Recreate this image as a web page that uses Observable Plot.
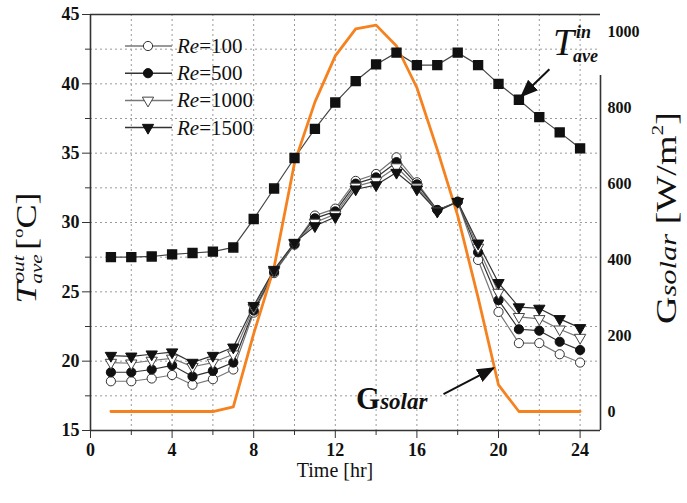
<!DOCTYPE html>
<html><head><meta charset="utf-8">
<script src="https://cdn.jsdelivr.net/npm/d3@7"></script>
<script src="https://cdn.jsdelivr.net/npm/@observablehq/plot@0.6"></script>
<style>
html,body{margin:0;padding:0;background:#fff;}
#chart{position:relative;width:687px;height:503px;overflow:hidden;}
</style></head><body><div id="chart"></div>
<script>
// ---- data ----
const hours = [1,2,3,4,5,6,7,8,9,10,11,12,13,14,15,16,17,18,19,20,21,22,23,24];
const re100  = [18.55,18.55,18.75,19.0,18.3,18.7,19.4,23.5,26.35,28.4,30.5,31.0,33.0,33.5,34.7,32.9,30.9,31.5,27.3,23.55,21.3,21.3,20.5,19.9];
const re500  = [19.2,19.2,19.4,19.7,18.9,19.3,19.9,23.65,26.45,28.45,30.3,30.8,32.8,33.25,34.35,32.75,30.9,31.5,27.85,24.4,22.3,22.2,21.4,20.8];
const re1000 = [19.9,19.85,20.05,20.2,19.6,19.9,20.5,23.85,26.5,28.5,30.0,30.6,32.6,33.0,34.0,32.55,30.85,31.5,28.2,24.95,23.2,23.05,22.3,21.7];
const re1500 = [20.4,20.35,20.5,20.65,19.9,20.4,21.0,24.0,26.6,28.55,29.75,30.4,32.4,32.7,33.6,32.4,30.8,31.5,28.5,25.65,23.9,23.8,23.05,22.4];
const tIn    = [27.5,27.5,27.55,27.7,27.8,27.9,28.2,30.25,32.45,34.65,36.75,38.65,40.2,41.4,42.25,41.35,41.35,42.25,41.35,40.0,38.85,37.6,36.5,35.35];
const gSolar = [0,0,0,0,0,0,12,205,380,655,815,937,1008,1018,963,853,690,516,300,70,0,0,0,0];
const seriesNames = ["Re=100","Re=500","Re=1000","Re=1500"];
const xTicksMajor = [0,4,8,12,16,20,24];
const yTicksMajor = [15,20,25,30,35,40,45];
const gTicks = [0,200,400,600,800,1000];

// ---- scales ----
const T_MIN = 15, T_MAX = 45, G_MIN = -50, G_MAX = 1046;
const gToT = g => T_MIN + (g - G_MIN) * (T_MAX - T_MIN) / (G_MAX - G_MIN);
const tToG = t => G_MIN + (t - T_MIN) * (G_MAX - G_MIN) / (T_MAX - T_MIN);

const sqrt3 = Math.sqrt(3);
const triangleDown = {draw(ctx, size) {
  const y = -Math.sqrt(size / (sqrt3 * 3));
  ctx.moveTo(0, -y * 2);
  ctx.lineTo(-sqrt3 * y, y);
  ctx.lineTo(sqrt3 * y, y);
  ctx.closePath();
}};

const styles = {
  "Re=100":  {symbol: "circle", fill: "white", stroke: "#333", line: "#777", r: 4.6},
  "Re=500":  {symbol: "circle", fill: "#111",  stroke: "#111", line: "#333", r: 4.6},
  "Re=1000": {symbol: triangleDown, fill: "white", stroke: "#444", line: "#777", r: 4.2},
  "Re=1500": {symbol: triangleDown, fill: "#111",  stroke: "#111", line: "#333", r: 4.2}
};
const values = {"Re=100": re100, "Re=500": re500, "Re=1000": re1000, "Re=1500": re1500};
const rows = seriesNames.flatMap(s => values[s].map((v, i) => ({hour: hours[i], T: v, series: s})));
const tInRows = hours.map((h, i) => ({hour: h, T: tIn[i]}));
const gRows = hours.map((h, i) => ({hour: h, G: gSolar[i]}));

const serif = "'Liberation Serif','Times New Roman',serif";
const grid = {stroke: "#9a9a9a", strokeOpacity: 1, strokeDasharray: "2,3", strokeWidth: 1};
const frame = {stroke: "#333", strokeWidth: 1.6};

const chart = Plot.plot({
  width: 687, height: 503,
  marginLeft: 90, marginRight: 87, marginTop: 14, marginBottom: 73,
  style: {fontFamily: serif, fontSize: "18px", fontWeight: "bold", color: "#111", background: "white"},
  x: {domain: [0, 25]},
  y: {domain: [T_MIN, T_MAX]},
  marks: [
    Plot.gridX({ticks: d3.range(2, 25, 2), ...grid}),
    Plot.gridY({ticks: d3.range(17.5, 45, 2.5), ...grid}),
    Plot.axisX({ticks: xTicksMajor, tickSize: 8, tickPadding: 5, label: null, fontSize: 18, fontWeight: "bold", stroke: "#333"}),
    Plot.axisX({ticks: d3.range(2, 25, 4), tickSize: 5, text: null, label: null, stroke: "#333"}),
    Plot.axisY({ticks: yTicksMajor, tickSize: 8, tickPadding: 3, label: null, fontSize: 18, fontWeight: "bold", stroke: "#333"}),
    Plot.axisY({ticks: d3.range(17.5, 45, 5), tickSize: 5, text: null, label: null, stroke: "#333"}),
    Plot.axisY({anchor: "right", ticks: gTicks.map(gToT), tickFormat: t => String(Math.round(tToG(t))),
      tickSize: 0, tickPadding: 7, textAnchor: "start", label: null, fontSize: 16, fontWeight: "bold"}),
    Plot.ruleX([0], frame),
    Plot.ruleY([T_MIN], frame),
    Plot.ruleY([T_MAX], frame),
    Plot.ruleX([25], {y1: T_MIN, y2: 40.6, ...frame}),
    ...seriesNames.map(s => Plot.line(rows.filter(r => r.series === s), {x: "hour", y: "T", stroke: styles[s].line, strokeWidth: 1.2})),
    Plot.line(tInRows, {x: "hour", y: "T", stroke: "#444", strokeWidth: 1.2}),
    Plot.line(gRows, {x: "hour", y: d => gToT(d.G), stroke: "#F5821F", strokeWidth: 2.8}),
    ...seriesNames.map(s => Plot.dot(rows.filter(r => r.series === s), {x: "hour", y: "T",
      symbol: styles[s].symbol, fill: styles[s].fill, stroke: styles[s].stroke, strokeWidth: 1, r: styles[s].r})),
    Plot.dot(tInRows, {x: "hour", y: "T", symbol: "square", fill: "#111", stroke: "#111", r: 5})
  ]
});
document.getElementById("chart").appendChild(chart);

// ---- rich text: legend, annotations, axis titles ----
const svg = d3.select(chart);
const sx = chart.scale("x").apply, sy = chart.scale("y").apply;
const defs = svg.append("defs");
defs.append("marker").attr("id", "ah").attr("viewBox", "0 0 10 10").attr("refX", 9).attr("refY", 5)
  .attr("markerWidth", 9).attr("markerHeight", 9).attr("orient", "auto-start-reverse")
  .append("path").attr("d", "M0,1 L10,5 L0,9 Z").attr("fill", "#111");

// legend
const lg = svg.append("g").attr("font-family", serif).attr("font-weight", "normal").attr("text-anchor", "start");
seriesNames.forEach((s, i) => {
  const y = 46 + i * 27.2;
  lg.append("line").attr("x1", 125).attr("x2", 172).attr("y1", y).attr("y2", y)
    .attr("stroke", styles[s].line).attr("stroke-width", 1.5);
  lg.append("path").attr("transform", `translate(148,${y})`)
    .attr("d", d3.symbol(styles[s].symbol === "circle" ? d3.symbolCircle : styles[s].symbol, Math.PI * styles[s].r ** 2)())
    .attr("fill", styles[s].fill).attr("stroke", styles[s].stroke);
  const t = lg.append("text").attr("x", 177).attr("y", y + 7).attr("font-size", 21).attr("fill", "#111");
  t.append("tspan").attr("font-style", "italic").text(s.split("=")[0]);
  t.append("tspan").text("=" + s.split("=")[1]);
});

// T_ave^in annotation
const tipX = sx(21) + 3, tipY = sy(tIn[20]) - 3;
svg.append("line").attr("x1", tipX + 28).attr("y1", tipY - 27).attr("x2", tipX).attr("y2", tipY)
  .attr("stroke", "#111").attr("stroke-width", 2).attr("marker-end", "url(#ah)");
const ta = svg.append("g").attr("font-family", serif).attr("fill", "#111").attr("text-anchor", "start");
ta.append("text").attr("x", 553).attr("y", 55).attr("font-size", 38).attr("font-style", "italic").attr("font-weight", "normal").text("T");
ta.append("text").attr("x", 576).attr("y", 38).attr("font-size", 18).attr("font-style", "italic").attr("font-weight", "bold").text("in");
ta.append("text").attr("x", 573).attr("y", 62).attr("font-size", 18).attr("font-style", "italic").attr("font-weight", "bold").text("ave");

// G_solar annotation
const gx = sx(19.78), gy = sy(gToT(113));
svg.append("line").attr("x1", gx - 50).attr("y1", gy + 26).attr("x2", gx).attr("y2", gy)
  .attr("stroke", "#111").attr("stroke-width", 2).attr("marker-end", "url(#ah)");
const ga = svg.append("text").attr("x", 356).attr("y", 409).attr("text-anchor", "start").attr("font-family", serif).attr("fill", "#111").attr("font-weight", "bold");
ga.append("tspan").attr("font-size", 31).text("G");
ga.append("tspan").attr("font-size", 23).attr("font-style", "italic").text("solar");

// x title
svg.append("text").attr("x", 335).attr("y", 477).attr("text-anchor", "middle").attr("font-family", serif)
  .attr("font-size", 20).attr("font-weight", "normal").attr("fill", "#111").text("Time [hr]");

// left title (stretched along its length like the reference)
const lt = svg.append("g").attr("transform", "translate(36,240) rotate(-90) scale(1.25,1)").attr("font-family", serif).attr("font-weight", "normal").attr("fill", "#111").attr("text-anchor", "start");
lt.append("text").attr("x", -51).attr("y", 0).attr("font-size", 30).attr("font-style", "italic").text("T");
lt.append("text").attr("x", -34).attr("y", -12).attr("font-size", 17).attr("font-style", "italic").text("out");
lt.append("text").attr("x", -35).attr("y", 6).attr("font-size", 17).attr("font-style", "italic").text("ave");
const lb = lt.append("text").attr("x", -8).attr("y", 0).attr("font-size", 29);
lb.append("tspan").text("[");
lb.append("tspan").attr("font-size", 15).attr("dy", -13).text("o");
lb.append("tspan").attr("dy", 13).text("C]");

// right title (stretched along its length like the reference)
const rt = svg.append("g").attr("transform", "translate(676,218) rotate(-90) scale(1.27,1)").attr("font-family", serif).attr("font-weight", "normal").attr("fill", "#111");
const rtt = rt.append("text").attr("x", 0).attr("y", 0).attr("text-anchor", "middle").attr("font-size", 30);
rtt.append("tspan").text("G");
rtt.append("tspan").attr("font-size", 24).attr("font-style", "italic").text("solar");
rtt.append("tspan").text(" [W/m");
rtt.append("tspan").attr("font-size", 17).attr("dy", -13).text("2");
rtt.append("tspan").attr("dy", 13).text("]");
</script></body></html>
